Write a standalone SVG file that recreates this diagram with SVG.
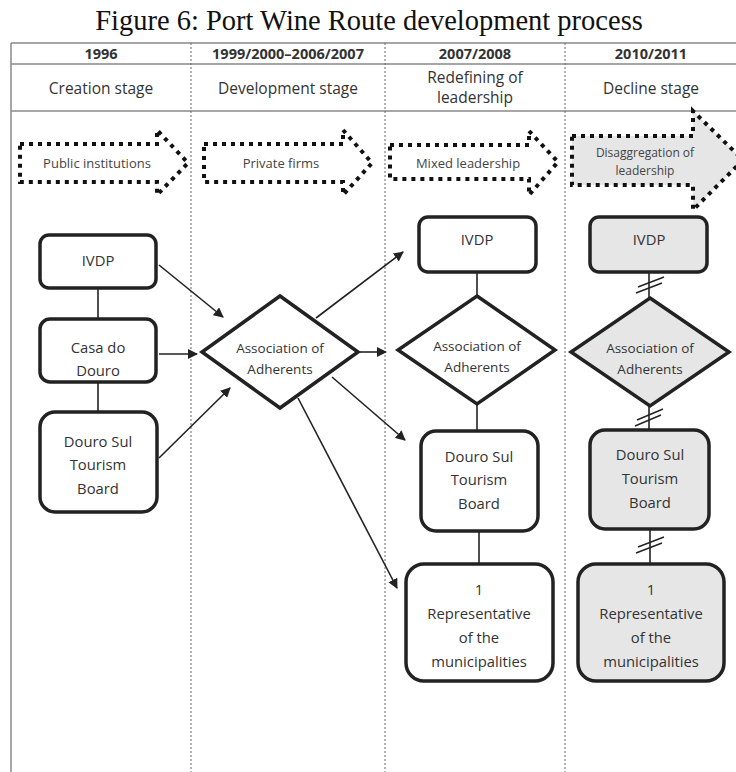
<svg xmlns="http://www.w3.org/2000/svg" width="736" height="772" viewBox="0 0 736 772">
<style>
.title{font-family:"Liberation Serif","Times New Roman",serif;font-size:28.5px;fill:#111}
.hd{font-family:"Open Sans","Liberation Sans",sans-serif;font-size:14.5px;font-weight:bold;fill:#333;text-anchor:middle}
.st{font-family:"Open Sans","Liberation Sans",sans-serif;font-size:15.5px;fill:#333;text-anchor:middle}
.ar{font-family:"Open Sans","Liberation Sans",sans-serif;font-size:13px;fill:#444;text-anchor:middle}
.nt{font-family:"Open Sans","Liberation Sans",sans-serif;font-size:14.8px;fill:#333;text-anchor:middle}
.dt{font-family:"Open Sans","Liberation Sans",sans-serif;font-size:13.5px;fill:#333;text-anchor:middle}
.grid{stroke:#888;stroke-width:1.5;fill:none}
.sep{stroke:#666;stroke-width:1;stroke-dasharray:2 2;fill:none}
.dot{stroke:#111;stroke-width:4;stroke-dasharray:4 5;fill:none}
.box{fill:#fff;stroke:#222;stroke-width:3.5}
.gbox{fill:#e6e6e6;stroke:#222;stroke-width:3.5}
.ln{stroke:#222;stroke-width:1.6;fill:none}
.arr{stroke:#222;stroke-width:1.6;fill:none;marker-end:url(#ah)}
.brk{stroke:#222;stroke-width:1.4;fill:none}
</style>
<defs>
<marker id="ah" viewBox="0 0 10 10" refX="9" refY="5" markerWidth="10" markerHeight="10" markerUnits="userSpaceOnUse" orient="auto">
<path d="M0,0 L10,5 L0,10 Z" fill="#222"/>
</marker>
</defs>
<rect width="736" height="772" fill="#fff"/>
<text class="title" x="369" y="30" text-anchor="middle">Figure 6: Port Wine Route development process</text>
<g id="table">
<line class="grid" x1="11" y1="43" x2="736" y2="43"/>
<line class="grid" x1="11" y1="64" x2="736" y2="64"/>
<line class="grid" x1="11" y1="111" x2="736" y2="111"/>
<line class="grid" x1="11" y1="43" x2="11" y2="772"/>
<line class="sep" x1="191" y1="43" x2="191" y2="772"/>
<line class="sep" x1="385" y1="43" x2="385" y2="772"/>
<line class="sep" x1="565" y1="43" x2="565" y2="772"/>
<text class="hd" x="101" y="59">1996</text>
<text class="hd" x="288" y="59">1999/2000–2006/2007</text>
<text class="hd" x="475" y="59">2007/2008</text>
<text class="hd" x="651" y="59">2010/2011</text>
<text class="st" x="101" y="94">Creation stage</text>
<text class="st" x="288" y="94">Development stage</text>
<text class="st" x="475" y="83">Redefining of</text>
<text class="st" x="475" y="103">leadership</text>
<text class="st" x="651" y="94">Decline stage</text>
</g>
<g id="stage-arrows">
<path class="dot" d="M20,144 H157 V130 L188,163 L157,195 V182 H20 Z"/>
<text class="ar" x="97" y="168">Public institutions</text>
<path class="dot" d="M204,144 H343 V130 L372,163 L343,195 V182 H204 Z"/>
<text class="ar" x="281" y="168">Private firms</text>
<path class="dot" d="M390,145 H529 V131 L558,162 L529,195 V179 H390 Z"/>
<text class="ar" x="468" y="168">Mixed leadership</text>
<path class="dot" d="M572,136 H693 V111 L743,160 L693,210 V185 H572 Z" style="fill:#e6e6e6"/>
<text class="ar" x="645" y="157" style="font-size:12px">Disaggregation of</text>
<text class="ar" x="645" y="175" style="font-size:12px">leadership</text>
</g>
<g id="connectors">
<line class="ln" x1="98" y1="288" x2="98" y2="319"/>
<line class="ln" x1="98" y1="382" x2="98" y2="412"/>
<line class="arr" x1="159" y1="265" x2="223" y2="317"/>
<line class="arr" x1="159" y1="354" x2="197" y2="354"/>
<line class="arr" x1="159" y1="458" x2="230" y2="388"/>
<line class="arr" x1="316" y1="318" x2="403" y2="252"/>
<line class="arr" x1="358" y1="352" x2="386" y2="352"/>
<line class="arr" x1="332" y1="377" x2="405" y2="440"/>
<line class="arr" x1="298" y1="398" x2="397" y2="588"/>
<line class="ln" x1="477" y1="272" x2="477" y2="296"/>
<line class="ln" x1="477" y1="404" x2="477" y2="431"/>
<line class="ln" x1="479" y1="531" x2="479" y2="564"/>
<line class="ln" x1="649" y1="272" x2="649" y2="298"/>
<line class="ln" x1="649" y1="406" x2="649" y2="430"/>
<line class="ln" x1="650" y1="529" x2="650" y2="564"/>
<path class="brk" d="M638,287 L664,277 M636,293 L662,283"/>
<path class="brk" d="M637,420 L663,409 M635,426 L661,415"/>
<path class="brk" d="M638,547 L664,537 M636,553 L662,543"/>
</g>
<g id="c1-ivdp"><rect class="box" x="40" y="235" width="116" height="53" rx="9"/><text class="nt" x="98" y="266">IVDP</text></g>
<g id="c1-casa"><rect class="box" x="40" y="319" width="116" height="63" rx="10"/><text class="nt" x="98" y="353">Casa do</text><text class="nt" x="98" y="376">Douro</text></g>
<g id="c1-dst"><rect class="box" x="40" y="412" width="117" height="100" rx="15"/><text class="nt" x="98" y="447">Douro Sul</text><text class="nt" x="98" y="470">Tourism</text><text class="nt" x="98" y="494">Board</text></g>
<g id="c2-assoc"><path class="box" d="M280,296 L358,352 L280,408 L202,352 Z"/><text class="dt" x="280" y="353">Association of</text><text class="dt" x="280" y="374">Adherents</text></g>
<g id="c3-ivdp"><rect class="box" x="419" y="217" width="117" height="55" rx="9"/><text class="nt" x="477" y="245">IVDP</text></g>
<g id="c3-assoc"><path class="box" d="M477,296 L555,350 L477,404 L398,350 Z"/><text class="dt" x="477" y="351">Association of</text><text class="dt" x="477" y="372">Adherents</text></g>
<g id="c3-dst"><rect class="box" x="421" y="431" width="117" height="100" rx="15"/><text class="nt" x="479" y="462">Douro Sul</text><text class="nt" x="479" y="485">Tourism</text><text class="nt" x="479" y="509">Board</text></g>
<g id="c3-rep"><rect class="box" x="406" y="564" width="147" height="117" rx="18"/><text class="nt" x="479" y="595">1</text><text class="nt" x="479" y="619">Representative</text><text class="nt" x="479" y="643">of the</text><text class="nt" x="479" y="667">municipalities</text></g>
<g id="c4-ivdp"><rect class="gbox" x="590" y="217" width="117" height="55" rx="9"/><text class="nt" x="649" y="245">IVDP</text></g>
<g id="c4-assoc"><path class="gbox" d="M650,298 L729,352 L650,406 L571,352 Z"/><text class="dt" x="650" y="353">Association of</text><text class="dt" x="650" y="374">Adherents</text></g>
<g id="c4-dst"><rect class="gbox" x="590" y="430" width="119" height="99" rx="15"/><text class="nt" x="650" y="460">Douro Sul</text><text class="nt" x="650" y="484">Tourism</text><text class="nt" x="650" y="508">Board</text></g>
<g id="c4-rep"><rect class="gbox" x="578" y="564" width="146" height="117" rx="18"/><text class="nt" x="651" y="595">1</text><text class="nt" x="651" y="619">Representative</text><text class="nt" x="651" y="643">of the</text><text class="nt" x="651" y="667">municipalities</text></g>
</svg>
